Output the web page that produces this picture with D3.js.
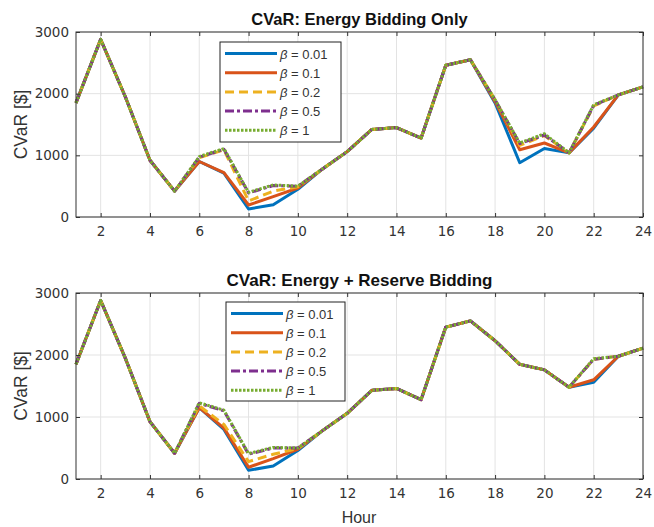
<!DOCTYPE html>
<html><head><meta charset="utf-8">
<script src="https://cdn.jsdelivr.net/npm/d3@7"></script>
<style>
html,body{margin:0;padding:0;background:#fff;}
svg{display:block;}
text{font-family:"Liberation Sans",Arial,sans-serif;}
</style></head>
<body>
<svg id="chart" width="654" height="527"></svg>
<script>
const hours = [1,2,3,4,5,6,7,8,9,10,11,12,13,14,15,16,17,18,19,20,21,22,23,24];
const betaLabels = ["0.01","0.1","0.2","0.5","1"];
const xTicks = [2,4,6,8,10,12,14,16,18,20,22,24];
const yTicks = [0,1000,2000,3000];

// Top panel: Energy Bidding Only
const top_b001 = [1850,2880,1950,920,420,900,710,130,200,450,780,1060,1420,1450,1280,2460,2550,1850,880,1110,1040,1440,1980,2110];
const top_b01  = [1850,2880,1950,920,420,900,720,195,330,470,780,1060,1420,1450,1280,2460,2550,1870,1090,1200,1040,1460,1980,2110];
const top_b02  = [1850,2880,1950,920,420,960,1090,260,420,490,780,1060,1420,1450,1280,2460,2550,1900,1160,1320,1040,1800,1980,2110];
const top_b05  = [1850,2880,1950,920,420,970,1100,390,510,500,780,1060,1420,1450,1280,2460,2550,1900,1190,1330,1040,1810,1980,2110];
const top_b1   = [1850,2880,1950,920,420,980,1110,400,520,500,780,1060,1420,1450,1280,2460,2550,1900,1200,1350,1040,1820,1980,2110];

// Bottom panel: Energy + Reserve Bidding
const bot_b001 = [1850,2880,1950,925,415,1150,800,140,210,460,780,1060,1430,1460,1280,2450,2550,2230,1850,1760,1480,1560,1980,2110];
const bot_b01  = [1850,2880,1950,925,415,1150,820,190,330,480,780,1060,1430,1460,1280,2450,2550,2230,1850,1760,1480,1600,1980,2110];
const bot_b02  = [1850,2880,1950,925,415,1180,880,280,400,490,780,1060,1430,1460,1280,2450,2550,2230,1850,1760,1480,1930,1980,2110];
const bot_b05  = [1850,2880,1950,925,415,1220,1100,400,500,500,780,1060,1430,1460,1280,2450,2550,2230,1850,1760,1480,1930,1980,2110];
const bot_b1   = [1850,2880,1950,925,415,1230,1110,410,510,500,780,1060,1430,1460,1280,2450,2550,2230,1850,1760,1480,1940,1980,2110];

const colors = ["#0072BD","#D95319","#EDB120","#7E2F8E","#77AC30"];
const dashes = [null,null,"9,5","9,3,3,3","2.5,1.5"];
const widths = [3,3,3,3,3];

const svg = d3.select("#chart");

function panel(cfg){
  const {top,bottom,left,right,title,series,legend} = cfg;
  const x = d3.scaleLinear().domain([1,24]).range([left,right]);
  const y = d3.scaleLinear().domain([0,3000]).range([bottom,top]);
  const g = svg.append("g");

  // grid
  g.append("g").selectAll("line").data(xTicks).join("line")
    .attr("x1",d=>x(d)).attr("x2",d=>x(d)).attr("y1",top).attr("y2",bottom)
    .attr("stroke","#e3e3e3").attr("stroke-width",1);
  g.append("g").selectAll("line").data(yTicks).join("line")
    .attr("x1",left).attr("x2",right).attr("y1",d=>y(d)).attr("y2",d=>y(d))
    .attr("stroke","#e3e3e3").attr("stroke-width",1);

  // lines
  const line = d3.line().x((d,i)=>x(hours[i])).y(d=>y(d));
  series.forEach((s,i)=>{
    g.append("path").datum(s).attr("d",line)
      .attr("fill","none").attr("stroke",colors[i]).attr("stroke-width",widths[i])
      .attr("stroke-dasharray",dashes[i]).attr("stroke-linejoin","round");
  });

  // axes (inward ticks)
  const ax = g.append("g").attr("transform",`translate(0,${bottom})`)
    .call(d3.axisBottom(x).tickValues(xTicks).tickSize(-4).tickPadding(9).tickFormat(d3.format("d")));
  const axT = g.append("g").attr("transform",`translate(0,${top})`)
    .call(d3.axisTop(x).tickValues(xTicks).tickSize(-4).tickFormat(""));
  const ay = g.append("g").attr("transform",`translate(${left},0)`)
    .call(d3.axisLeft(y).tickValues(yTicks).tickSize(-4).tickPadding(7).tickFormat(d3.format("d")));
  const ayR = g.append("g").attr("transform",`translate(${right},0)`)
    .call(d3.axisRight(y).tickValues(yTicks).tickSize(-4).tickFormat(""));
  [ax,axT,ay,ayR].forEach(a=>{
    a.select(".domain").remove();
    a.selectAll(".tick line").attr("stroke","#333");
    a.selectAll("text").attr("fill","#333").style("font-size","13.5px").style("font-family","'DejaVu Sans',sans-serif");
  });
  g.append("rect").attr("x",left).attr("y",top).attr("width",right-left).attr("height",bottom-top)
    .attr("fill","none").attr("stroke","#333").attr("stroke-width",1);

  // title
  g.append("text").attr("x",(left+right)/2).attr("y",top-7).attr("text-anchor","middle")
    .style("font-weight","bold").style("font-size",cfg.titleSize).attr("fill","#111").text(title);

  // y label
  g.append("text").attr("transform",`translate(27,${(top+bottom)/2}) rotate(-90)`)
    .attr("text-anchor","middle").style("font-size","17.5px").attr("fill","#333").text("CVaR [$]");

  // legend
  const lg = g.append("g");
  lg.append("rect").attr("x",legend.x).attr("y",legend.y).attr("width",legend.w).attr("height",legend.h)
    .attr("fill","#fff").attr("stroke","#222").attr("stroke-width",1);
  betaLabels.forEach((b,i)=>{
    const yy = legend.y + 11.5 + i*19.2;
    lg.append("line").attr("x1",legend.x+5).attr("x2",legend.x+57).attr("y1",yy).attr("y2",yy)
      .attr("stroke",colors[i]).attr("stroke-width",widths[i]).attr("stroke-dasharray",dashes[i]);
    const t = lg.append("text").attr("x",legend.x+60).attr("y",yy+5).style("font-size","13px").attr("fill","#333");
    t.append("tspan").style("font-style","italic").text("\u03B2");
    t.append("tspan").text(" = "+b);
  });
}

panel({top:32,bottom:217,left:76,right:643,title:"CVaR: Energy Bidding Only",titleSize:"16.5px",
  series:[top_b001,top_b01,top_b02,top_b05,top_b1],
  legend:{x:220,y:42,w:121,h:100}});
panel({top:293,bottom:479,left:76,right:643,title:"CVaR: Energy + Reserve Bidding",titleSize:"17px",
  series:[bot_b001,bot_b01,bot_b02,bot_b05,bot_b1],
  legend:{x:226,y:302,w:119,h:99}});

svg.append("text").attr("x",359).attr("y",523).attr("text-anchor","middle")
  .style("font-size","16px").attr("fill","#333").text("Hour");
</script>
</body></html>
